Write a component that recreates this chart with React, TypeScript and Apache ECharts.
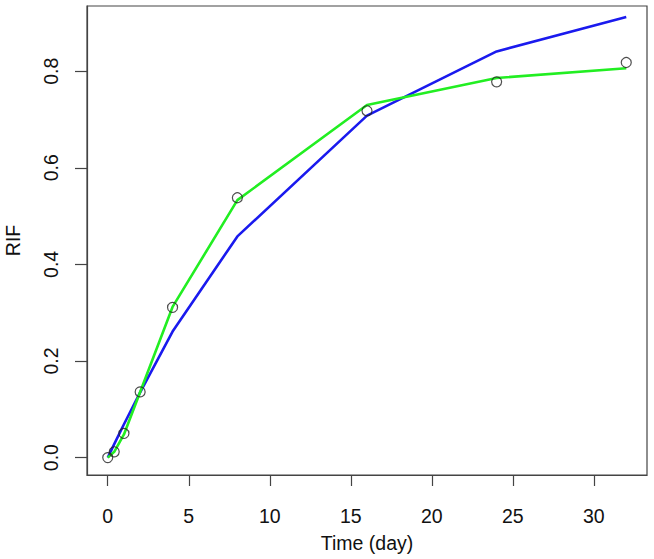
import React, { useEffect, useRef } from "react";
import * as echarts from "echarts";

const timeDays = [0, 0.4, 1, 2, 4, 8, 16, 24, 32];
const observedRIF = [0, 0.012, 0.05, 0.136, 0.311, 0.538, 0.718, 0.778, 0.818];
const greenFit = [0, 0.012, 0.048, 0.136, 0.312, 0.533, 0.73, 0.786, 0.806];
const blueFit = [0, 0.028, 0.069, 0.135, 0.261, 0.458, 0.708, 0.841, 0.912];
const xTicks = [0, 5, 10, 15, 20, 25, 30];
const yTicks = [0, 0.2, 0.4, 0.6, 0.8];

const FONT = "'Liberation Sans', Arial, sans-serif";

export default function App() {
  const ref = useRef<HTMLDivElement>(null);
  useEffect(() => {
    if (!ref.current) return;
    const chart = echarts.init(ref.current, null, { renderer: "svg" });
    const pairs = (ys: number[]) => timeDays.map((t, i) => [t, ys[i]]);
    chart.setOption({
      animation: false,
      backgroundColor: "#ffffff",
      grid: {
        left: 87,
        top: 6,
        right: 7,
        bottom: 84,
        show: true,
        borderColor: "#444",
        borderWidth: 1.2,
        containLabel: false,
        outerBoundsMode: "none",
      },
      xAxis: {
        type: "value",
        min: -1.28,
        max: 33.28,
        name: "Time (day)",
        nameLocation: "middle",
        nameGap: 58,
        nameTextStyle: { fontFamily: FONT, fontSize: 19.5, color: "#111" },
        axisLine: { show: true, onZero: false, lineStyle: { color: "#444", width: 1.2 } },
        axisTick: {
          show: true,
          inside: false,
          length: 11,
          customValues: xTicks,
          lineStyle: { color: "#444", width: 1.2 },
        },
        axisLabel: {
          customValues: xTicks,
          margin: 31,
          fontFamily: FONT,
          fontSize: 19.5,
          color: "#111",
        },
        splitLine: { show: false },
      },
      yAxis: {
        type: "value",
        min: -0.036,
        max: 0.935,
        name: "RIF",
        nameLocation: "middle",
        nameGap: 64,
        nameTextStyle: { fontFamily: FONT, fontSize: 19.5, color: "#111" },
        axisLine: { show: true, onZero: false, lineStyle: { color: "#444", width: 1.2 } },
        axisTick: {
          show: true,
          inside: false,
          length: 12,
          customValues: yTicks,
          lineStyle: { color: "#444", width: 1.2 },
        },
        axisLabel: {
          customValues: yTicks,
          rotate: 90,
          margin: 26,
          fontFamily: FONT,
          fontSize: 19.5,
          color: "#111",
          formatter: (v: number) => v.toFixed(1),
        },
        splitLine: { show: false },
      },
      series: [
        {
          type: "line",
          data: pairs(blueFit),
          showSymbol: false,
          symbol: "none",
          lineStyle: { color: "#1a1aee", width: 2.6 },
          z: 2,
        },
        {
          type: "line",
          data: pairs(greenFit),
          showSymbol: false,
          symbol: "none",
          lineStyle: { color: "#22ee22", width: 2.6 },
          z: 3,
        },
        {
          type: "scatter",
          data: pairs(observedRIF),
          symbol: "circle",
          symbolSize: 10,
          itemStyle: { color: "rgba(0,0,0,0)", borderColor: "#222", borderWidth: 1.2 },
          z: 4,
        },
      ],
    });
    return () => chart.dispose();
  }, []);
  return (
    <div
      ref={ref}
      style={{ position: "fixed", left: 0, top: 0, width: 654, height: 559, background: "#fff" }}
    />
  );
}
